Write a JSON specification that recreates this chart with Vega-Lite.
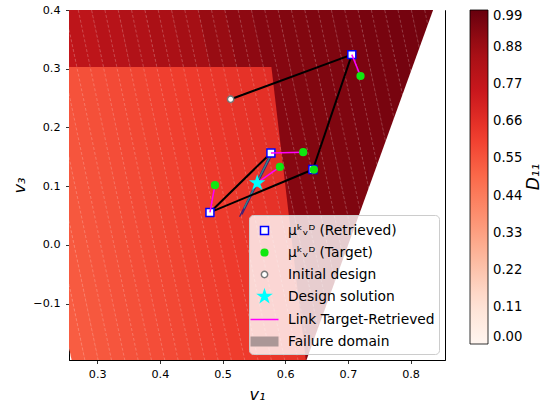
{
  "$schema": "https://vega.github.io/schema/vega-lite/v6.json",
  "width": 376,
  "height": 350,
  "autosize": {"type": "none"},
  "padding": {"left": 69, "top": 10, "right": 98, "bottom": 50},
  "datasets": {
    "dark": [
      {"band": "d0", "v3": 0.4, "xa": 0.2060, "xb": 0.2493, "D11": 0.770}, {"band": "d0", "v3": -0.196, "xa": 0.3228, "xb": 0.3661, "D11": 0.770},
      {"band": "d1", "v3": 0.4, "xa": 0.2485, "xb": 0.2918, "D11": 0.789}, {"band": "d1", "v3": -0.196, "xa": 0.3653, "xb": 0.4086, "D11": 0.789},
      {"band": "d2", "v3": 0.4, "xa": 0.2910, "xb": 0.3343, "D11": 0.808}, {"band": "d2", "v3": -0.196, "xa": 0.4078, "xb": 0.4511, "D11": 0.808},
      {"band": "d3", "v3": 0.4, "xa": 0.3335, "xb": 0.3769, "D11": 0.827}, {"band": "d3", "v3": -0.196, "xa": 0.4503, "xb": 0.4937, "D11": 0.827},
      {"band": "d4", "v3": 0.4, "xa": 0.3761, "xb": 0.4194, "D11": 0.846}, {"band": "d4", "v3": -0.196, "xa": 0.4929, "xb": 0.5362, "D11": 0.846},
      {"band": "d5", "v3": 0.4, "xa": 0.4186, "xb": 0.4619, "D11": 0.866}, {"band": "d5", "v3": -0.196, "xa": 0.5354, "xb": 0.5787, "D11": 0.866},
      {"band": "d6", "v3": 0.4, "xa": 0.4611, "xb": 0.5044, "D11": 0.892}, {"band": "d6", "v3": -0.196, "xa": 0.5779, "xb": 0.6212, "D11": 0.892},
      {"band": "d7", "v3": 0.4, "xa": 0.5036, "xb": 0.5469, "D11": 0.913}, {"band": "d7", "v3": -0.196, "xa": 0.6204, "xb": 0.6637, "D11": 0.913},
      {"band": "d8", "v3": 0.4, "xa": 0.5461, "xb": 0.5895, "D11": 0.929}, {"band": "d8", "v3": -0.196, "xa": 0.6629, "xb": 0.7063, "D11": 0.929},
      {"band": "d9", "v3": 0.4, "xa": 0.5887, "xb": 0.6320, "D11": 0.936}, {"band": "d9", "v3": -0.196, "xa": 0.7055, "xb": 0.7488, "D11": 0.936},
      {"band": "d10", "v3": 0.4, "xa": 0.6312, "xb": 0.6745, "D11": 0.943}, {"band": "d10", "v3": -0.196, "xa": 0.7480, "xb": 0.7913, "D11": 0.943},
      {"band": "d11", "v3": 0.4, "xa": 0.6737, "xb": 0.7170, "D11": 0.949}, {"band": "d11", "v3": -0.196, "xa": 0.7905, "xb": 0.8338, "D11": 0.949},
      {"band": "d12", "v3": 0.4, "xa": 0.7162, "xb": 0.7596, "D11": 0.956}, {"band": "d12", "v3": -0.196, "xa": 0.8330, "xb": 0.8764, "D11": 0.956},
      {"band": "d13", "v3": 0.4, "xa": 0.7588, "xb": 0.8021, "D11": 0.962}, {"band": "d13", "v3": -0.196, "xa": 0.8756, "xb": 0.9189, "D11": 0.962},
      {"band": "d14", "v3": 0.4, "xa": 0.8013, "xb": 0.8446, "D11": 0.968}, {"band": "d14", "v3": -0.196, "xa": 0.9181, "xb": 0.9614, "D11": 0.968}
    ],
    "light": [
      {"band": "l0", "v3": 0.303, "xa": 0.1612, "xb": 0.1833, "D11": 0.529}, {"band": "l0", "v3": -0.196, "xa": 0.2590, "xb": 0.2811, "D11": 0.529},
      {"band": "l1", "v3": 0.303, "xa": 0.1825, "xb": 0.2045, "D11": 0.536}, {"band": "l1", "v3": -0.196, "xa": 0.2803, "xb": 0.3023, "D11": 0.536},
      {"band": "l2", "v3": 0.303, "xa": 0.2037, "xb": 0.2258, "D11": 0.543}, {"band": "l2", "v3": -0.196, "xa": 0.3015, "xb": 0.3236, "D11": 0.543},
      {"band": "l3", "v3": 0.303, "xa": 0.2250, "xb": 0.2470, "D11": 0.549}, {"band": "l3", "v3": -0.196, "xa": 0.3228, "xb": 0.3448, "D11": 0.549},
      {"band": "l4", "v3": 0.303, "xa": 0.2462, "xb": 0.2683, "D11": 0.557}, {"band": "l4", "v3": -0.196, "xa": 0.3440, "xb": 0.3661, "D11": 0.557},
      {"band": "l5", "v3": 0.303, "xa": 0.2675, "xb": 0.2896, "D11": 0.564}, {"band": "l5", "v3": -0.196, "xa": 0.3653, "xb": 0.3874, "D11": 0.564},
      {"band": "l6", "v3": 0.303, "xa": 0.2888, "xb": 0.3108, "D11": 0.571}, {"band": "l6", "v3": -0.196, "xa": 0.3866, "xb": 0.4086, "D11": 0.571},
      {"band": "l7", "v3": 0.303, "xa": 0.3100, "xb": 0.3321, "D11": 0.578}, {"band": "l7", "v3": -0.196, "xa": 0.4078, "xb": 0.4299, "D11": 0.578},
      {"band": "l8", "v3": 0.303, "xa": 0.3313, "xb": 0.3533, "D11": 0.585}, {"band": "l8", "v3": -0.196, "xa": 0.4291, "xb": 0.4511, "D11": 0.585},
      {"band": "l9", "v3": 0.303, "xa": 0.3525, "xb": 0.3746, "D11": 0.593}, {"band": "l9", "v3": -0.196, "xa": 0.4503, "xb": 0.4724, "D11": 0.593},
      {"band": "l10", "v3": 0.303, "xa": 0.3738, "xb": 0.3959, "D11": 0.600}, {"band": "l10", "v3": -0.196, "xa": 0.4716, "xb": 0.4937, "D11": 0.600},
      {"band": "l11", "v3": 0.303, "xa": 0.3951, "xb": 0.4171, "D11": 0.607}, {"band": "l11", "v3": -0.196, "xa": 0.4929, "xb": 0.5149, "D11": 0.607},
      {"band": "l12", "v3": 0.303, "xa": 0.4163, "xb": 0.4384, "D11": 0.614}, {"band": "l12", "v3": -0.196, "xa": 0.5141, "xb": 0.5362, "D11": 0.614},
      {"band": "l13", "v3": 0.303, "xa": 0.4376, "xb": 0.4596, "D11": 0.622}, {"band": "l13", "v3": -0.196, "xa": 0.5354, "xb": 0.5574, "D11": 0.622},
      {"band": "l14", "v3": 0.303, "xa": 0.4588, "xb": 0.4809, "D11": 0.629}, {"band": "l14", "v3": -0.196, "xa": 0.5566, "xb": 0.5787, "D11": 0.629},
      {"band": "l15", "v3": 0.303, "xa": 0.4801, "xb": 0.5022, "D11": 0.636}, {"band": "l15", "v3": -0.196, "xa": 0.5779, "xb": 0.6000, "D11": 0.636},
      {"band": "l16", "v3": 0.303, "xa": 0.5014, "xb": 0.5234, "D11": 0.643}, {"band": "l16", "v3": -0.196, "xa": 0.5992, "xb": 0.6212, "D11": 0.643},
      {"band": "l17", "v3": 0.303, "xa": 0.5226, "xb": 0.5447, "D11": 0.650}, {"band": "l17", "v3": -0.0935, "xa": 0.6003, "xb": 0.6216, "D11": 0.650}, {"band": "l17", "v3": -0.196, "xa": 0.6204, "xb": 0.6329, "D11": 0.650},
      {"band": "l18", "v3": 0.303, "xa": 0.5439, "xb": 0.5659, "D11": 0.657}, {"band": "l18", "v3": 0.153, "xa": 0.5733, "xb": 0.5945, "D11": 0.657}, {"band": "l18", "v3": -0.0935, "xa": 0.6216, "xb": 0.6216, "D11": 0.657},
      {"band": "l19", "v3": 0.303, "xa": 0.5651, "xb": 0.5780, "D11": 0.664}, {"band": "l19", "v3": 0.153, "xa": 0.5945, "xb": 0.5945, "D11": 0.664}
    ],
    "contours": [
      {"x1": 0.1422, "y1": 0.4, "x2": 0.2590, "y2": -0.196}, {"x1": 0.1635, "y1": 0.4, "x2": 0.2803, "y2": -0.196},
      {"x1": 0.1847, "y1": 0.4, "x2": 0.3015, "y2": -0.196}, {"x1": 0.2060, "y1": 0.4, "x2": 0.3228, "y2": -0.196},
      {"x1": 0.2272, "y1": 0.4, "x2": 0.3440, "y2": -0.196}, {"x1": 0.2485, "y1": 0.4, "x2": 0.3653, "y2": -0.196},
      {"x1": 0.2698, "y1": 0.4, "x2": 0.3866, "y2": -0.196}, {"x1": 0.2910, "y1": 0.4, "x2": 0.4078, "y2": -0.196},
      {"x1": 0.3123, "y1": 0.4, "x2": 0.4291, "y2": -0.196}, {"x1": 0.3335, "y1": 0.4, "x2": 0.4503, "y2": -0.196},
      {"x1": 0.3548, "y1": 0.4, "x2": 0.4716, "y2": -0.196}, {"x1": 0.3761, "y1": 0.4, "x2": 0.4929, "y2": -0.196},
      {"x1": 0.3973, "y1": 0.4, "x2": 0.5141, "y2": -0.196}, {"x1": 0.4186, "y1": 0.4, "x2": 0.5354, "y2": -0.196},
      {"x1": 0.4398, "y1": 0.4, "x2": 0.5566, "y2": -0.196}, {"x1": 0.4611, "y1": 0.4, "x2": 0.5779, "y2": -0.196},
      {"x1": 0.4824, "y1": 0.4, "x2": 0.5992, "y2": -0.196}, {"x1": 0.5036, "y1": 0.4, "x2": 0.6204, "y2": -0.196},
      {"x1": 0.5249, "y1": 0.4, "x2": 0.6417, "y2": -0.196}, {"x1": 0.5461, "y1": 0.4, "x2": 0.6629, "y2": -0.196},
      {"x1": 0.5674, "y1": 0.4, "x2": 0.6842, "y2": -0.196}, {"x1": 0.5887, "y1": 0.4, "x2": 0.7055, "y2": -0.196},
      {"x1": 0.6099, "y1": 0.4, "x2": 0.7267, "y2": -0.196}, {"x1": 0.6312, "y1": 0.4, "x2": 0.7480, "y2": -0.196},
      {"x1": 0.6525, "y1": 0.4, "x2": 0.7693, "y2": -0.196}, {"x1": 0.6737, "y1": 0.4, "x2": 0.7905, "y2": -0.196},
      {"x1": 0.6950, "y1": 0.4, "x2": 0.8118, "y2": -0.196}, {"x1": 0.7162, "y1": 0.4, "x2": 0.8330, "y2": -0.196},
      {"x1": 0.7375, "y1": 0.4, "x2": 0.8543, "y2": -0.196}, {"x1": 0.7588, "y1": 0.4, "x2": 0.8756, "y2": -0.196},
      {"x1": 0.7800, "y1": 0.4, "x2": 0.8968, "y2": -0.196}, {"x1": 0.8013, "y1": 0.4, "x2": 0.9181, "y2": -0.196},
      {"x1": 0.8226, "y1": 0.4, "x2": 0.9394, "y2": -0.196}
    ],
    "outside": [
      {"v3": -0.196, "xa": 0.634, "xb": 0.9},
      {"v3": 0.4, "xa": 0.836, "xb": 0.9}
    ],
    "trajPurple": [
      {"x1": 0.5772, "y1": 0.1566, "x2": 0.5272, "y2": 0.0478},
      {"x1": 0.5790, "y1": 0.1540, "x2": 0.5310, "y2": 0.0520}
    ],
    "trajTeal": [
      {"x1": 0.5755, "y1": 0.1500, "x2": 0.5340, "y2": 0.0620}
    ],
    "path": [
      {"x1": 0.5129, "y1": 0.248, "x2": 0.7063, "y2": 0.324},
      {"x1": 0.7063, "y1": 0.324, "x2": 0.6442, "y2": 0.1284},
      {"x1": 0.6442, "y1": 0.1284, "x2": 0.4799, "y2": 0.0553},
      {"x1": 0.4799, "y1": 0.0553, "x2": 0.5772, "y2": 0.1566}
    ],
    "links": [
      {"x1": 0.7063, "y1": 0.324, "x2": 0.7202, "y2": 0.2876},
      {"x1": 0.5772, "y1": 0.1566, "x2": 0.6287, "y2": 0.1578},
      {"x1": 0.6442, "y1": 0.1284, "x2": 0.6458, "y2": 0.128},
      {"x1": 0.4799, "y1": 0.0553, "x2": 0.4879, "y2": 0.1017},
      {"x1": 0.5553, "y1": 0.1056, "x2": 0.5915, "y2": 0.1328}
    ],
    "ptsA": [
      {"kind": "μᵏᵥᴰ  (Retrieved)", "v1": 0.7063, "v3": 0.324},
      {"kind": "μᵏᵥᴰ  (Retrieved)", "v1": 0.5772, "v3": 0.1566},
      {"kind": "μᵏᵥᴰ  (Retrieved)", "v1": 0.6442, "v3": 0.1284},
      {"kind": "μᵏᵥᴰ  (Retrieved)", "v1": 0.4799, "v3": 0.0553},
      {"kind": "Initial design", "v1": 0.5129, "v3": 0.248}
    ],
    "ptsB": [
      {"kind": "μᵏᵥᴰ (Target)", "v1": 0.7202, "v3": 0.2876},
      {"kind": "μᵏᵥᴰ (Target)", "v1": 0.6287, "v3": 0.1578},
      {"kind": "μᵏᵥᴰ (Target)", "v1": 0.5915, "v3": 0.1328},
      {"kind": "μᵏᵥᴰ (Target)", "v1": 0.6458, "v3": 0.128},
      {"kind": "μᵏᵥᴰ (Target)", "v1": 0.4879, "v3": 0.1017},
      {"kind": "Design solution", "v1": 0.5553, "v3": 0.1056}
    ]
  },
  "layer": [
    {
      "data": {"name": "dark"},
      "mark": {"type": "area", "orient": "horizontal", "clip": true},
      "encoding": {
        "y": {"field": "v3", "type": "quantitative", "title": "v₃", "scale": {"domain": [-0.196, 0.4], "nice": false, "zero": false}, "axis": {"values": [-0.1, 0, 0.1, 0.2, 0.3, 0.4], "format": ".1f", "titleFontStyle": "italic"}},
        "x": {"field": "xa", "type": "quantitative", "stack": null, "title": "v₁", "scale": {"domain": [0.255, 0.855], "nice": false, "zero": false}, "axis": {"values": [0.3, 0.4, 0.5, 0.6, 0.7, 0.8], "format": ".1f", "titleFontStyle": "italic"}},
        "x2": {"field": "xb"},
        "detail": {"field": "band"},
        "color": {"field": "D11", "type": "quantitative", "scale": {"type": "linear", "domain": [0, 0.12375, 0.2475, 0.37125, 0.495, 0.61875, 0.7425, 0.86625, 0.99], "range": ["#fff5f0", "#fee0d2", "#fcbba1", "#fc9272", "#fb6a4a", "#ef3b2c", "#cb181d", "#a50f15", "#67000d"], "interpolate": "rgb"},
          "legend": {"title": "D₁₁", "orient": "right", "offset": 25, "direction": "vertical", "gradientLength": 334, "gradientThickness": 18, "gradientStrokeColor": "black", "gradientStrokeWidth": 0.8, "values": [0, 0.11, 0.22, 0.33, 0.44, 0.55, 0.66, 0.77, 0.88, 0.99], "format": ".2f", "labelFontSize": 13.2, "labelColor": "black", "labelOffset": 5, "labelOverlap": false, "titleOrient": "right", "titleFontSize": 17, "titleFontStyle": "italic", "titleFontWeight": "normal", "titleColor": "black", "titleAnchor": "middle", "titleAlign": "center", "titleBaseline": "middle", "titlePadding": 12, "encode": {"title": {"update": {"angle": {"value": -90}}}}}}
      }
    },
    {
      "data": {"name": "light"},
      "mark": {"type": "area", "orient": "horizontal", "clip": true},
      "encoding": {
        "y": {"field": "v3", "type": "quantitative", "title": "v₃", "scale": {"domain": [-0.196, 0.4], "nice": false, "zero": false}},
        "x": {"field": "xa", "type": "quantitative", "stack": null, "title": "v₁", "scale": {"domain": [0.255, 0.855], "nice": false, "zero": false}},
        "x2": {"field": "xb"},
        "detail": {"field": "band"},
        "color": {"field": "D11", "type": "quantitative", "scale": {"type": "linear", "domain": [0, 0.12375, 0.2475, 0.37125, 0.495, 0.61875, 0.7425, 0.86625, 0.99], "range": ["#fff5f0", "#fee0d2", "#fcbba1", "#fc9272", "#fb6a4a", "#ef3b2c", "#cb181d", "#a50f15", "#67000d"], "interpolate": "rgb"},
          "legend": {"title": "D₁₁", "orient": "right", "offset": 25, "direction": "vertical", "gradientLength": 334, "gradientThickness": 18, "gradientStrokeColor": "black", "gradientStrokeWidth": 0.8, "values": [0, 0.11, 0.22, 0.33, 0.44, 0.55, 0.66, 0.77, 0.88, 0.99], "format": ".2f", "labelFontSize": 13.2, "labelColor": "black", "labelOffset": 5, "labelOverlap": false, "titleOrient": "right", "titleFontSize": 17, "titleFontStyle": "italic", "titleFontWeight": "normal", "titleColor": "black", "titleAnchor": "middle", "titleAlign": "center", "titleBaseline": "middle", "titlePadding": 12, "encode": {"title": {"update": {"angle": {"value": -90}}}}}}
      }
    },
    {
      "data": {"name": "contours"},
      "mark": {"type": "rule", "clip": true, "color": "white", "opacity": 0.28, "strokeWidth": 0.8, "strokeDash": [3, 2]},
      "encoding": {
        "x": {"field": "x1", "type": "quantitative", "title": "v₁", "scale": {"domain": [0.255, 0.855], "nice": false, "zero": false}},
        "y": {"field": "y1", "type": "quantitative", "title": "v₃", "scale": {"domain": [-0.196, 0.4], "nice": false, "zero": false}},
        "x2": {"field": "x2"},
        "y2": {"field": "y2"}
      }
    },
    {
      "data": {"name": "outside"},
      "mark": {"type": "area", "orient": "horizontal", "clip": true, "color": "white", "opacity": 1},
      "encoding": {
        "y": {"field": "v3", "type": "quantitative", "title": "v₃", "scale": {"domain": [-0.196, 0.4], "nice": false, "zero": false}},
        "x": {"field": "xa", "type": "quantitative", "stack": null, "title": "v₁", "scale": {"domain": [0.255, 0.855], "nice": false, "zero": false}},
        "x2": {"field": "xb"}
      }
    },
    {
      "data": {"name": "trajPurple"},
      "mark": {"type": "rule", "color": "#3f1f78", "strokeWidth": 1.3},
      "encoding": {
        "x": {"field": "x1", "type": "quantitative", "title": "v₁", "scale": {"domain": [0.255, 0.855], "nice": false, "zero": false}},
        "y": {"field": "y1", "type": "quantitative", "title": "v₃", "scale": {"domain": [-0.196, 0.4], "nice": false, "zero": false}},
        "x2": {"field": "x2"},
        "y2": {"field": "y2"}
      }
    },
    {
      "data": {"name": "trajTeal"},
      "mark": {"type": "rule", "color": "#2a8c8c", "strokeWidth": 1.3},
      "encoding": {
        "x": {"field": "x1", "type": "quantitative", "title": "v₁", "scale": {"domain": [0.255, 0.855], "nice": false, "zero": false}},
        "y": {"field": "y1", "type": "quantitative", "title": "v₃", "scale": {"domain": [-0.196, 0.4], "nice": false, "zero": false}},
        "x2": {"field": "x2"},
        "y2": {"field": "y2"}
      }
    },
    {
      "data": {"name": "path"},
      "mark": {"type": "rule", "color": "black", "strokeWidth": 2},
      "encoding": {
        "x": {"field": "x1", "type": "quantitative", "title": "v₁", "scale": {"domain": [0.255, 0.855], "nice": false, "zero": false}},
        "y": {"field": "y1", "type": "quantitative", "title": "v₃", "scale": {"domain": [-0.196, 0.4], "nice": false, "zero": false}},
        "x2": {"field": "x2"},
        "y2": {"field": "y2"}
      }
    },
    {
      "data": {"name": "ptsA"},
      "mark": {"type": "point", "filled": true, "opacity": 1, "size": 441, "strokeWidth": 1.5},
      "encoding": {
        "x": {"field": "v1", "type": "quantitative", "title": "v₁", "scale": {"domain": [0.255, 0.855], "nice": false, "zero": false}},
        "y": {"field": "v3", "type": "quantitative", "title": "v₃", "scale": {"domain": [-0.196, 0.4], "nice": false, "zero": false}},
        "shape": {"field": "kind", "type": "nominal", "scale": {"domain": ["μᵏᵥᴰ  (Retrieved)", "μᵏᵥᴰ (Target)", "Initial design", "Design solution", "Link Target-Retrieved", "Failure domain"], "range": ["M-0.38,-0.38H0.38V0.38H-0.38Z", "M0.32,0A0.32,0.32,0,1,1,-0.32,0A0.32,0.32,0,1,1,0.32,0Z", "M0.3,0A0.3,0.3,0,1,1,-0.3,0A0.3,0.3,0,1,1,0.3,0Z", "M0,-0.6L0.1347,-0.1853L0.5707,-0.1853L0.218,0.0708L0.3527,0.4853L0,0.2293L-0.3527,0.4853L-0.218,0.0708L-0.5707,-0.1853L-0.1347,-0.1853Z", "M-1.333,0H1.333", "M-1.333,-0.476H1.333V0.476H-1.333Z"]},
          "legend": {"title": null, "orient": "bottom-right", "offset": 6, "padding": 4, "fillColor": "rgba(255,255,255,0.8)", "strokeColor": "#cccccc", "cornerRadius": 4, "labelFontSize": 13.8, "labelColor": "black", "labelLimit": 250, "labelOffset": 12, "rowPadding": 3, "symbolSize": 441, "symbolStrokeWidth": 1.5, "symbolOpacity": 1}},
        "fill": {"field": "kind", "type": "nominal", "scale": {"domain": ["μᵏᵥᴰ  (Retrieved)", "μᵏᵥᴰ (Target)", "Initial design", "Design solution", "Link Target-Retrieved", "Failure domain"], "range": ["white", "#10e810", "white", "#00ffff", "#ff00ff", "#ab9797"]},
          "legend": {"title": null, "orient": "bottom-right", "offset": 6, "padding": 4, "fillColor": "rgba(255,255,255,0.8)", "strokeColor": "#cccccc", "cornerRadius": 4, "labelFontSize": 13.8, "labelColor": "black", "labelLimit": 250, "labelOffset": 12, "rowPadding": 3, "symbolSize": 441, "symbolStrokeWidth": 1.5, "symbolOpacity": 1}},
        "stroke": {"field": "kind", "type": "nominal", "scale": {"domain": ["μᵏᵥᴰ  (Retrieved)", "μᵏᵥᴰ (Target)", "Initial design", "Design solution", "Link Target-Retrieved", "Failure domain"], "range": ["#0000ff", "#10e810", "#777777", "#00ffff", "#ff00ff", "transparent"]},
          "legend": {"title": null, "orient": "bottom-right", "offset": 6, "padding": 4, "fillColor": "rgba(255,255,255,0.8)", "strokeColor": "#cccccc", "cornerRadius": 4, "labelFontSize": 13.8, "labelColor": "black", "labelLimit": 250, "labelOffset": 12, "rowPadding": 3, "symbolSize": 441, "symbolStrokeWidth": 1.5, "symbolOpacity": 1}}
      }
    },
    {
      "data": {"name": "links"},
      "mark": {"type": "rule", "color": "#ff00ff", "strokeWidth": 1.5},
      "encoding": {
        "x": {"field": "x1", "type": "quantitative", "title": "v₁", "scale": {"domain": [0.255, 0.855], "nice": false, "zero": false}},
        "y": {"field": "y1", "type": "quantitative", "title": "v₃", "scale": {"domain": [-0.196, 0.4], "nice": false, "zero": false}},
        "x2": {"field": "x2"},
        "y2": {"field": "y2"}
      }
    },
    {
      "data": {"name": "ptsB"},
      "mark": {"type": "point", "filled": true, "opacity": 1, "size": 441, "strokeWidth": 1.5},
      "encoding": {
        "x": {"field": "v1", "type": "quantitative", "title": "v₁", "scale": {"domain": [0.255, 0.855], "nice": false, "zero": false}},
        "y": {"field": "v3", "type": "quantitative", "title": "v₃", "scale": {"domain": [-0.196, 0.4], "nice": false, "zero": false}},
        "shape": {"field": "kind", "type": "nominal", "scale": {"domain": ["μᵏᵥᴰ  (Retrieved)", "μᵏᵥᴰ (Target)", "Initial design", "Design solution", "Link Target-Retrieved", "Failure domain"], "range": ["M-0.38,-0.38H0.38V0.38H-0.38Z", "M0.32,0A0.32,0.32,0,1,1,-0.32,0A0.32,0.32,0,1,1,0.32,0Z", "M0.3,0A0.3,0.3,0,1,1,-0.3,0A0.3,0.3,0,1,1,0.3,0Z", "M0,-0.6L0.1347,-0.1853L0.5707,-0.1853L0.218,0.0708L0.3527,0.4853L0,0.2293L-0.3527,0.4853L-0.218,0.0708L-0.5707,-0.1853L-0.1347,-0.1853Z", "M-1.333,0H1.333", "M-1.333,-0.476H1.333V0.476H-1.333Z"]},
          "legend": {"title": null, "orient": "bottom-right", "offset": 6, "padding": 4, "fillColor": "rgba(255,255,255,0.8)", "strokeColor": "#cccccc", "cornerRadius": 4, "labelFontSize": 13.8, "labelColor": "black", "labelLimit": 250, "labelOffset": 12, "rowPadding": 3, "symbolSize": 441, "symbolStrokeWidth": 1.5, "symbolOpacity": 1}},
        "fill": {"field": "kind", "type": "nominal", "scale": {"domain": ["μᵏᵥᴰ  (Retrieved)", "μᵏᵥᴰ (Target)", "Initial design", "Design solution", "Link Target-Retrieved", "Failure domain"], "range": ["white", "#10e810", "white", "#00ffff", "#ff00ff", "#ab9797"]},
          "legend": {"title": null, "orient": "bottom-right", "offset": 6, "padding": 4, "fillColor": "rgba(255,255,255,0.8)", "strokeColor": "#cccccc", "cornerRadius": 4, "labelFontSize": 13.8, "labelColor": "black", "labelLimit": 250, "labelOffset": 12, "rowPadding": 3, "symbolSize": 441, "symbolStrokeWidth": 1.5, "symbolOpacity": 1}},
        "stroke": {"field": "kind", "type": "nominal", "scale": {"domain": ["μᵏᵥᴰ  (Retrieved)", "μᵏᵥᴰ (Target)", "Initial design", "Design solution", "Link Target-Retrieved", "Failure domain"], "range": ["#0000ff", "#10e810", "#777777", "#00ffff", "#ff00ff", "transparent"]},
          "legend": {"title": null, "orient": "bottom-right", "offset": 6, "padding": 4, "fillColor": "rgba(255,255,255,0.8)", "strokeColor": "#cccccc", "cornerRadius": 4, "labelFontSize": 13.8, "labelColor": "black", "labelLimit": 250, "labelOffset": 12, "rowPadding": 3, "symbolSize": 441, "symbolStrokeWidth": 1.5, "symbolOpacity": 1}}
      }
    }
  ],
  "config": {
    "font": "DejaVu Sans",
    "background": "white",
    "view": {"stroke": "black", "strokeWidth": 1},
    "axis": {"grid": false, "domainColor": "black", "domainWidth": 1, "tickColor": "black", "tickSize": 3.5, "tickWidth": 0.8, "labelColor": "black", "labelFontSize": 11.2, "labelFlush": false, "labelOverlap": false, "titleColor": "black", "titleFontSize": 16, "titleFontWeight": "normal"},
    "axisX": {"labelPadding": 5, "titlePadding": 7},
    "axisY": {"labelPadding": 5.5, "titlePadding": 5}
  }
}
